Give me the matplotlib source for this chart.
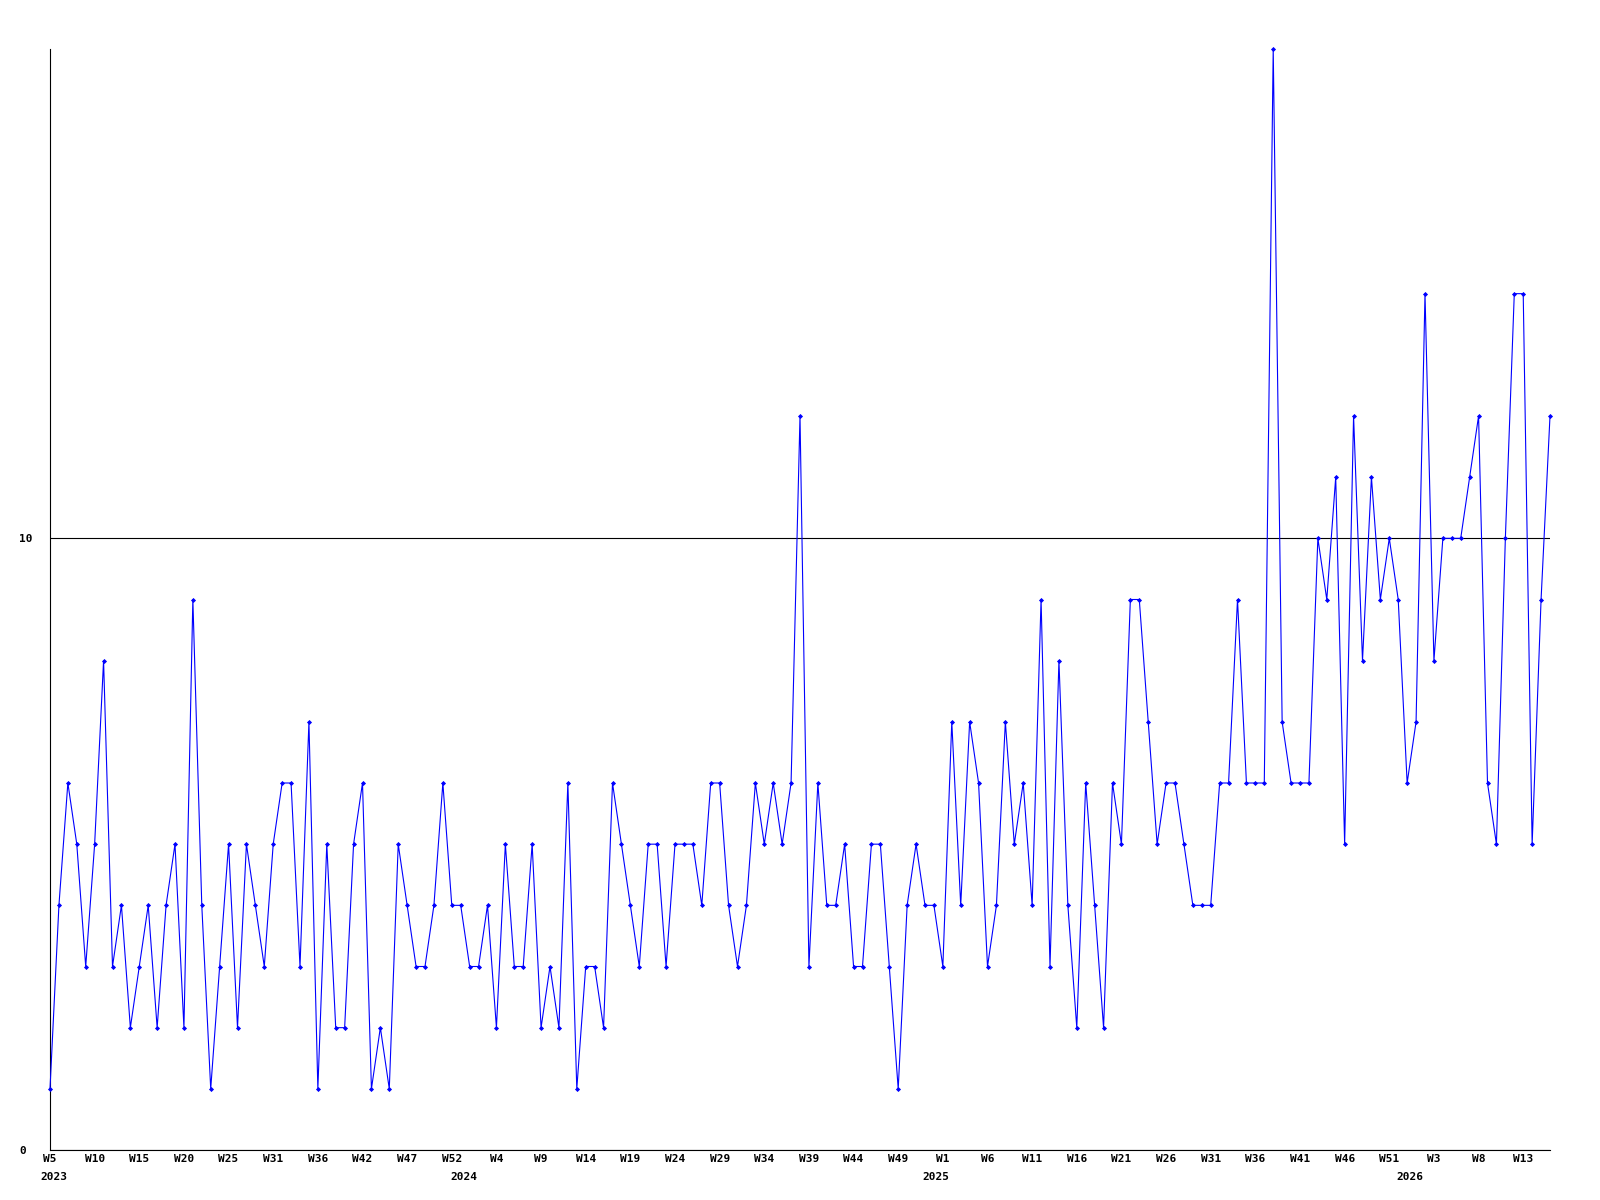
import matplotlib
matplotlib.use('Agg')
import matplotlib.pyplot as plt
import matplotlib.transforms as mtransforms

# === Данные: значение за каждую неделю ===
values = [
    1, 4, 6, 5, 3, 5, 8, 3, 4, 2,
    3, 4, 2, 4, 5, 2, 9, 4, 1, 3,
    5, 2, 5, 4, 3, 5, 6, 6, 3, 7,
    1, 5, 2, 2, 5, 6, 1, 2, 1, 5,
    4, 3, 3, 4, 6, 4, 4, 3, 3, 4,
    2, 5, 3, 3, 5, 2, 3, 2, 6, 1,
    3, 3, 2, 6, 5, 4, 3, 5, 5, 3,
    5, 5, 5, 4, 6, 6, 4, 3, 4, 6,
    5, 6, 5, 6, 12, 3, 6, 4, 4, 5,
    3, 3, 5, 5, 3, 1, 4, 5, 4, 4,
    3, 7, 4, 7, 6, 3, 4, 7, 5, 6,
    4, 9, 3, 8, 4, 2, 6, 4, 2, 6,
    5, 9, 9, 7, 5, 6, 6, 5, 4, 4,
    4, 6, 6, 9, 6, 6, 6, 18, 7, 6,
    6, 6, 10, 9, 11, 5, 12, 8, 11, 9,
    10, 9, 6, 7, 14, 8, 10, 10, 10, 11,
    12, 6, 5, 10, 14, 14, 5, 9, 12,
]

# подписи недель (каждая 5-я точка)
week_labels = ['W5', 'W10', 'W15', 'W20', 'W25', 'W31', 'W36', 'W42', 'W47', 'W52',
               'W4', 'W9', 'W14', 'W19', 'W24', 'W29', 'W34', 'W39', 'W44', 'W49',
               'W1', 'W6', 'W11', 'W16', 'W21', 'W26', 'W31', 'W36', 'W41', 'W46', 'W51',
               'W3', 'W8', 'W13']
week_ticks = list(range(0, 5 * len(week_labels), 5))

# годы и где начинается год (в неделях от начала)
years = ['2023', '2024', '2025', '2026']
year_pos = [0.4, 46.3, 99.2, 152.3]

FONT = {'family': 'DejaVu Sans Mono', 'weight': 'bold', 'size': 8}

fig = plt.figure(figsize=(16, 12), dpi=100)
ax = fig.add_axes([50 / 1600, 50 / 1200, 1500 / 1600, 1101 / 1200])

x = list(range(len(values)))
ax.plot(x, values, color='#0000ff', linewidth=0.8, marker='D', markersize=2.6,
        markeredgewidth=0, clip_on=False, zorder=3)

ax.set_xlim(0, len(values) - 1)
ax.set_ylim(0, 18)

# оси: только слева и снизу
for side in ['top', 'right']:
    ax.spines[side].set_visible(False)
for side in ['left', 'bottom']:
    ax.spines[side].set_color('black')
    ax.spines[side].set_linewidth(0.8)

ax.set_yticks([0, 10])
ax.set_yticklabels(['0', '10'], fontdict=FONT, ha='left')
ax.tick_params(axis='y', length=0, pad=22)
ax.grid(axis='y', color='black', linewidth=0.8)
ax.set_axisbelow(True)

ax.set_xticks(week_ticks)
ax.set_xticklabels(week_labels, fontdict=FONT)
ax.tick_params(axis='x', length=0, pad=3)

# годы под неделями
trans = mtransforms.blended_transform_factory(ax.transData, fig.transFigure)
for y_lbl, pos in zip(years, year_pos):
    ax.text(pos, 1 - 1177 / 1200, y_lbl, transform=trans, ha='center', va='center',
            fontdict=FONT)

plt.savefig('out.png', dpi=100)
plt.close()
